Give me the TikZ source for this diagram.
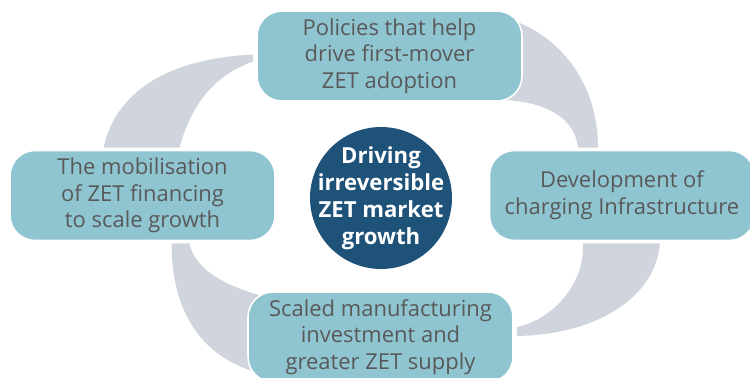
\documentclass[tikz,border=0pt]{standalone}
\usepackage{fontspec}
\setmainfont{Open Sans}
\usepackage{tikz}
\usetikzlibrary{positioning, calc, backgrounds}
\usepackage{xcolor}
\definecolor{zetteal}{RGB}{143, 197, 209}
\definecolor{zetnavy}{RGB}{31, 82, 121}
\definecolor{zetgray}{RGB}{89, 89, 89}
\definecolor{zetband}{RGB}{207, 212, 221}

\begin{document}
\begin{tikzpicture}[
  x=0.02cm, y=-0.02cm,
  box/.style={rectangle, rounded corners=0.5cm, draw=white, line width=0.9pt, fill=zetteal, minimum width=5.3cm, minimum height=1.8cm, inner sep=0pt, outer sep=0pt, align=center, text=zetgray, font=\fontsize{12.5}{15.2}\selectfont},
  hub/.style={circle, fill=zetnavy, minimum size=2.84cm, inner sep=-12pt, outer sep=0pt, align=center, text=white, font=\fontsize{12.6}{15.4}\selectfont\bfseries},
  band/.style={fill=zetband}
]
\useasboundingbox (0,0) rectangle (750,378);
\clip (0,0) rectangle (750,378);

\node[hub] (hub) at (381,198) {Driving\\irreversible\\ZET market\\growth};

\node[box, above=0.52cm of hub, xshift=0.17cm] (pol) {Policies that help\\drive first-mover\\ZET adoption};
\node[box, right=0.75cm of hub, yshift=0.05cm] (dev) {Development of\\charging Infrastructure};
\node[box, below=0.46cm of hub, xshift=-0.01cm] (manu) {Scaled manufacturing\\investment and\\greater ZET supply};
\node[box, left=0.7cm of hub, yshift=0.05cm] (mob) {The mobilisation\\of ZET financing\\to scale growth};

\begin{scope}[on background layer]
\fill[band] ($(mob.north)+(-39,-3)$) .. controls +(16,-70) and +(-62,3) .. ($(pol.west)+(-4,-1.5)$)
  -- ($(pol.west)+(-4,5.5)$) .. controls +(-28,10) and +(15,-55) .. ($(mob.north)+(37,-3)$) -- cycle;
\fill[band] ($(pol.north east)+(-7,10)$) .. controls +(50,19) and +(0,-60) .. ($(dev.north)+(-24,-3)$)
  -- ($(dev.north)+(-44,-3)$) .. controls +(-3,-30) and +(40,2) .. ($(pol.south east)+(-17,-1)$) -- cycle;
\fill[band] ($(dev.south)+(38,3)$) .. controls +(-5,57) and +(75,-1) .. ($(manu.east)+(4,-1)$)
  -- ($(manu.east)+(4,-10)$) .. controls +(28,-5) and +(2,47) .. ($(dev.south)+(-39,3)$) -- cycle;
\fill[band] ($(mob.south)+(29,3)$) .. controls +(0,67) and +(-55,-17) .. ($(manu.west)+(7,35)$)
  -- ($(manu.west)+(14,-41)$) .. controls +(-35,-10) and +(5,27) .. ($(mob.south)+(47,3)$) -- cycle;
\end{scope}

\end{tikzpicture}
\end{document}
